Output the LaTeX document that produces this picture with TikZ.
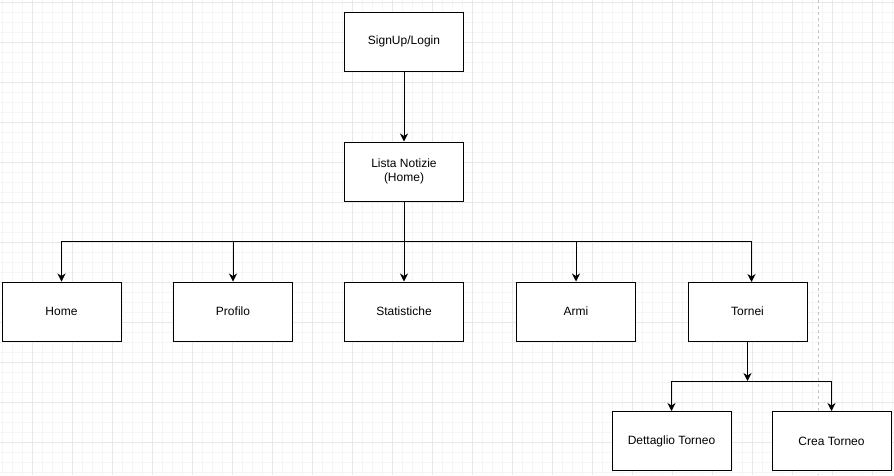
\documentclass[tikz,border=0pt]{standalone}
\usepackage{fontspec}
\setmainfont{Liberation Sans}
\usetikzlibrary{arrows.meta}
\definecolor{gminor}{HTML}{F5F5F5}
\definecolor{gmajor}{HTML}{E8E8E8}
\definecolor{dashc}{HTML}{C4C4C4}
\tikzset{
  box/.style={draw=black, line width=1pt, fill=white, minimum width=119pt, minimum height=59pt, inner sep=0pt, align=center, font=\fontsize{12pt}{14pt}\selectfont},
  conn/.style={draw=black, line width=1pt, -{Stealth[length=8pt,width=8pt,inset=2.5pt]}},
  plainconn/.style={draw=black, line width=1pt},
}
\begin{document}
\begin{tikzpicture}[x=1pt,y=-1pt]
\useasboundingbox (0,0) rectangle (894,475);
\fill[white] (0,0) rectangle (894,475);
% grid
\foreach \x in {2,12,...,892} \draw[gminor, line width=0.8pt] (\x,0) -- (\x,475);
\foreach \y in {2,12,...,472} \draw[gminor, line width=0.8pt] (0,\y) -- (894,\y);
\foreach \x in {32,72,...,872} \draw[gmajor, line width=0.8pt] (\x,0) -- (\x,475);
\foreach \y in {2,42,...,442} \draw[gmajor, line width=0.8pt] (0,\y) -- (894,\y);
% dashed page line
\draw[dashc, line width=0.8pt, dash pattern=on 3pt off 3pt] (818.5,0) -- (818.5,475);
% nodes
\node[box] (su) at (404,41.5) {SignUp/Login};
\node[box] (ln) at (404,171.5) {Lista Notizie\\(Home)};
\node[box] (ho) at (61.5,311.5) {Home};
\node[box] (pr) at (233,311.5) {Profilo};
\node[box] (st) at (404,311.5) {Statistiche};
\node[box] (ar) at (576,311.5) {Armi};
\node[box] (to) at (747.5,311.5) {Tornei};
\node[box] (dt) at (671.5,441) {Dettaglio Torneo};
\node[box] (ct) at (831.5,441) {Crea Torneo};
\coordinate (tin) at (751.5,282);
\coordinate (bus) at (404,241);
\coordinate (j) at (747.5,381);
% connectors
\draw[conn] (su) -- (ln);
\draw[plainconn] (ln.south) -- (bus);
\draw[conn] (bus) -| (ho.north);
\draw[conn] (bus) -| (pr.north);
\draw[conn] (bus) -- (st.north);
\draw[conn] (bus) -| (ar.north);
\draw[conn] (bus) -| (tin);
\draw[conn] (to.south) -- (j);
\draw[conn] (j) -| (dt.north);
\draw[conn] (j) -| (ct.north);
\end{tikzpicture}
\end{document}
